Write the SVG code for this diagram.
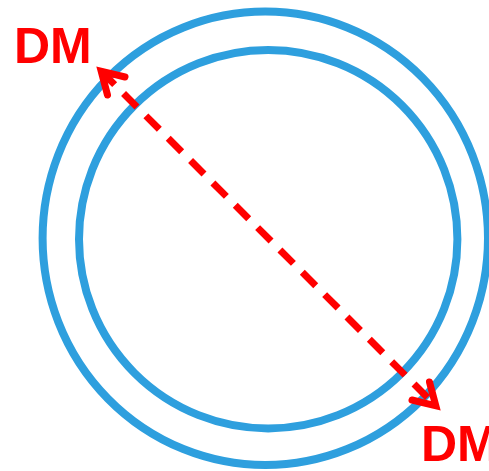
<svg xmlns="http://www.w3.org/2000/svg" width="489" height="471" viewBox="0 0 489 471">
  <style>
    .ring { fill: none; stroke: #2E9FDE; stroke-width: 8; }
    .lbl { font-family: "Liberation Sans", Arial, sans-serif; font-weight: bold; font-size: 50px; fill: #FF0000; }
    .dash { fill: none; stroke: #FF0000; stroke-width: 7; stroke-dasharray: 19 12.6; }
    .head { fill: none; stroke: #FF0000; stroke-width: 7; stroke-linecap: round; stroke-linejoin: miter; stroke-miterlimit: 10; }
  </style>
  <rect width="489" height="471" fill="#FFFFFF"/>
  <g id="outer-ring">
    <ellipse class="ring" cx="265.3" cy="238.3" rx="222.7" ry="226.7"/>
  </g>
  <g id="inner-ring">
    <circle class="ring" cx="268.2" cy="239.2" r="189.2"/>
  </g>
  <g id="connectors">
    <path class="dash" d="M101.2,71.2 L435.8,405.8"/>
    <path class="head" d="M125,77 L101.2,71.2 L107.5,95"/>
    <path class="head" d="M412,400 L435.8,405.8 L429.5,382"/>
  </g>
  <g id="label-dm-top">
    <text class="lbl" x="14" y="63">DM</text>
  </g>
  <g id="label-dm-bottom">
    <text class="lbl" x="421" y="461">DM</text>
  </g>
</svg>
